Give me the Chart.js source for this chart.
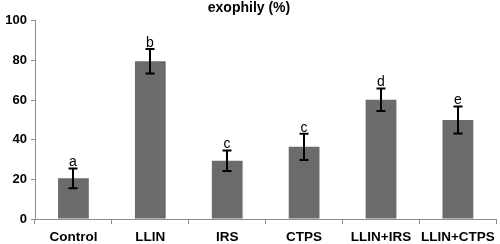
<!DOCTYPE html>
<html>
<head>
<meta charset="utf-8">
<script src="https://cdn.jsdelivr.net/npm/chart.js@4"></script>
<style>
  body { margin: 0; background: #fff; }
  canvas { display: block; }
</style>
</head>
<body>
<canvas id="exophily" width="500" height="244"></canvas>
<script>
// exophily (%) por tratamiento
const categories = ['Control', 'LLIN', 'IRS', 'CTPS', 'LLIN+IRS', 'LLIN+CTPS'];
const means = [20.5, 79.6, 29.4, 36.4, 60.2, 50.0];
const errors = [5.0, 6.2, 5.2, 6.6, 5.7, 6.8];
const letters = ['a', 'b', 'c', 'c', 'd', 'e'];
const yTicks = [0, 20, 40, 60, 80, 100];

const axisColor = '#8c8c8c';
const fontFam = '"Liberation Sans", Arial, sans-serif';

// barras de error + letras de significancia
const errorBars = {
    id: 'errorBars',
    afterDatasetsDraw(chart) {
        const ctx = chart.ctx;
        const y = chart.scales.y;
        const meta = chart.getDatasetMeta(0);
        ctx.save();
        ctx.strokeStyle = '#000';
        ctx.lineWidth = 2;
        meta.data.forEach((bar, i) => {
            const x = Math.round(bar.x);
            const yHi = y.getPixelForValue(means[i] + errors[i]);
            const yLo = y.getPixelForValue(means[i] - errors[i]);
            ctx.beginPath();
            ctx.moveTo(x, yHi);
            ctx.lineTo(x, yLo);
            ctx.moveTo(x - 4.5, yHi);
            ctx.lineTo(x + 4.5, yHi);
            ctx.moveTo(x - 4.5, yLo);
            ctx.lineTo(x + 4.5, yLo);
            ctx.stroke();

            ctx.fillStyle = '#000';
            ctx.font = '14px ' + fontFam;
            ctx.textAlign = 'center';
            ctx.textBaseline = 'bottom';
            ctx.fillText(letters[i], x, yHi + 1);
        });
        ctx.restore();
    }
};

new Chart(document.getElementById('exophily'), {
    type: 'bar',
    data: {
        labels: categories,
        datasets: [{
            label: 'exophily (%)',
            data: means,
            backgroundColor: '#6b6b6b',
            borderWidth: 0,
            barPercentage: 0.4,
            categoryPercentage: 1
        }]
    },
    options: {
        responsive: false,
        animation: false,
        layout: { padding: { left: 0, right: 2, top: 0, bottom: 0 } },
        plugins: {
            legend: { display: false },
            tooltip: { enabled: false },
            title: {
                display: true,
                text: 'exophily (%)',
                color: '#000',
                font: { family: fontFam, size: 14, weight: 'bold' },
                padding: { top: 0, bottom: 4 }
            }
        },
        scales: {
            x: {
                afterFit: s => { s.height = 25; },
                grid: {
                    offset: true,
                    drawOnChartArea: false,
                    drawTicks: true,
                    tickLength: 5,
                    color: axisColor
                },
                border: { color: axisColor, width: 1 },
                ticks: {
                    color: '#000',
                    font: { family: fontFam, size: 13.5, weight: 'bold' },
                    padding: 5,
                    maxRotation: 0,
                    autoSkip: false
                }
            },
            y: {
                min: 0,
                max: 100,
                afterBuildTicks: s => { s.ticks = yTicks.map(v => ({ value: v })); },
                afterFit: s => { s.width = 35; },
                grid: {
                    drawOnChartArea: false,
                    tickLength: 4,
                    color: axisColor
                },
                border: { color: axisColor, width: 1 },
                ticks: {
                    color: '#000',
                    font: { family: fontFam, size: 13, weight: 'bold' },
                    padding: 4
                }
            }
        }
    },
    plugins: [errorBars]
});
</script>
</body>
</html>
